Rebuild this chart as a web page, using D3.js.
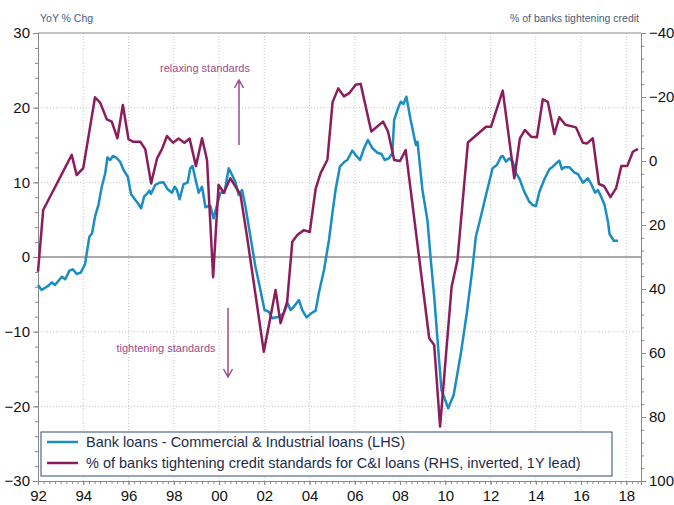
<!DOCTYPE html>
<html>
<head>
<meta charset="utf-8">
<script src="https://cdn.jsdelivr.net/npm/d3@7"></script>
<style>
  body { margin: 0; background: #fff; }
  svg { font-family: "Liberation Sans", Arial, sans-serif; }
</style>
</head>
<body>
<div id="chart"></div>
<script>
// C&I loans, YoY % chg (LHS)
var loanDates = [1992.0,1992.16,1992.46,1992.61,1992.75,1993.05,1993.2,1993.39,1993.54,1993.71,1993.89,1994.08,1994.27,1994.39,1994.52,1994.67,1994.82,1994.97,1995.07,1995.19,1995.31,1995.45,1995.63,1995.78,1995.97,1996.11,1996.3,1996.4,1996.56,1996.69,1996.81,1996.92,1996.99,1997.18,1997.37,1997.55,1997.73,1997.92,1998.04,1998.14,1998.26,1998.43,1998.61,1998.73,1998.83,1998.95,1999.1,1999.25,1999.4,1999.54,1999.62,1999.76,1999.91,2000.06,2000.24,2000.43,2000.58,2000.72,2000.87,2001.02,2001.17,2001.39,2001.61,2001.8,2002.01,2002.2,2002.35,2002.64,2002.86,2003.04,2003.16,2003.31,2003.53,2003.68,2003.87,2004.08,2004.27,2004.41,2004.64,2004.86,2005.01,2005.15,2005.34,2005.55,2005.67,2005.89,2006.04,2006.23,2006.41,2006.58,2006.78,2007.0,2007.18,2007.32,2007.51,2007.66,2007.74,2007.91,2008.03,2008.15,2008.28,2008.47,2008.7,2008.77,2008.84,2008.99,2009.21,2009.36,2009.51,2009.68,2009.83,2010.13,2010.37,2010.69,2010.95,2011.21,2011.35,2011.57,2011.8,2012.09,2012.28,2012.46,2012.54,2012.68,2012.83,2012.98,2013.13,2013.27,2013.49,2013.71,2013.86,2014.01,2014.16,2014.38,2014.6,2014.75,2014.9,2015.04,2015.15,2015.26,2015.49,2015.71,2015.86,2016.08,2016.3,2016.45,2016.62,2016.74,2016.89,2017.04,2017.19,2017.26,2017.45,2017.63];
var loanValues = [-3.75,-4.42,-3.84,-3.39,-3.75,-2.64,-2.99,-1.83,-1.65,-2.28,-2.1,-0.94,2.72,3.17,5.4,6.96,9.41,11.21,13.35,12.99,13.53,13.35,12.76,11.65,10.75,8.44,7.63,7.27,6.52,8.08,8.44,8.88,8.44,9.64,9.95,10.0,9.07,8.61,9.41,8.97,7.73,9.74,9.95,11.88,12.19,10.54,8.61,9.41,6.66,6.83,6.83,5.18,6.96,8.61,8.61,11.88,10.98,10.08,8.3,8.97,6.74,2.72,-1.3,-3.98,-7.1,-7.33,-8.21,-8.0,-7.54,-6.2,-7.1,-6.66,-5.76,-7.1,-8.08,-7.54,-7.19,-4.86,-1.74,2.28,5.85,8.97,12.09,12.76,12.99,14.24,13.66,12.99,14.56,15.67,14.56,13.97,13.79,12.99,13.22,13.89,18.35,19.91,20.8,20.49,21.47,18.35,15.0,15.44,13.43,8.97,4.96,-0.4,-5.32,-12.01,-17.81,-20.26,-18.48,-12.9,-7.54,-1.3,2.72,5.4,8.3,11.88,12.32,13.43,13.53,12.76,13.22,12.76,11.21,10.54,8.75,7.41,6.96,6.83,8.75,10.41,11.75,12.09,12.55,12.9,11.75,12.01,12.01,11.29,11.12,9.95,10.54,9.78,8.61,8.97,8.08,6.96,4.73,3.08,2.18,2.18];

// % of banks tightening C&I standards (RHS, inverted, 1Y lead)
var tightDates = [1992.0,1992.23,1993.49,1993.71,1994.0,1994.52,1994.75,1995.04,1995.26,1995.51,1995.75,1996.0,1996.22,1996.52,1996.74,1997.0,1997.26,1997.48,1997.7,1997.97,1998.21,1998.47,1998.7,1998.98,1999.25,1999.47,1999.74,1999.98,2000.21,2000.5,2000.77,2000.95,2001.24,2001.98,2002.5,2002.72,2003.01,2003.24,2003.46,2003.75,2004.01,2004.27,2004.49,2004.79,2005.02,2005.27,2005.52,2005.77,2006.04,2006.26,2006.73,2007.25,2007.47,2007.74,2008.0,2008.25,2009.29,2009.51,2009.77,2010.28,2010.54,2011.0,2011.8,2012.02,2012.54,2013.05,2013.3,2013.52,2013.79,2014.05,2014.31,2014.53,2014.82,2015.04,2015.31,2015.78,2016.08,2016.27,2016.52,2016.79,2017.01,2017.3,2017.55,2017.78,2018.04,2018.29,2018.51];
var tightValues = [34.6,15.3,-1.9,4.4,2.2,-19.9,-18.2,-13.0,-12.3,-7.1,-17.5,-6.8,-6.0,-6.0,-3.7,7.0,-0.8,-3.7,-7.8,-5.7,-7.0,-5.7,-7.0,1.6,-7.1,-0.3,36.3,7.5,9.9,5.4,8.5,10.6,23.7,59.6,40.3,50.7,44.0,25.2,23.1,21.6,22.2,8.7,3.8,-0.4,-18.4,-22.7,-20.2,-21.3,-23.8,-24.1,-9.2,-12.3,-9.2,-0.3,0.0,-3.4,55.4,57.5,83.0,39.3,30.9,-5.8,-10.7,-10.7,-22.0,5.4,-7.1,-9.7,-7.6,-7.4,-19.3,-18.5,-8.4,-13.7,-11.3,-10.5,-5.7,-5.5,-7.1,7.2,7.8,11.3,8.5,1.6,1.6,-2.9,-3.8];

var xTickYears = [1992,1994,1996,1998,2000,2002,2004,2006,2008,2010,2012,2014,2016,2018];
var leftTicks = [-30,-20,-10,0,10,20,30];
var rightTicks = [-40,-20,0,20,40,60,80,100];

var W = 674, H = 505;
var plotL = 38, plotR = 641, plotT = 33, plotB = 481;
var blue = "#1b8dc5", purple = "#8c1d5d", note = "#9d4c8b", axisGrey = "#8a8a8a";

var svg = d3.select("#chart").append("svg")
  .attr("width", W).attr("height", H);

var x = d3.scaleLinear().domain([1992, 2018.65]).range([plotL, plotR]);
var yL = d3.scaleLinear().domain([-30, 30]).range([plotB, plotT]);
var yR = d3.scaleLinear().domain([100, -40]).range([plotB, plotT]);

// grid
svg.append("g").selectAll("line")
  .data(leftTicks.filter(function(d){ return d != 0 && d != 30 && d != -30; }))
  .enter().append("line")
  .attr("x1", plotL).attr("x2", plotR)
  .attr("y1", function(d){ return yL(d); }).attr("y2", function(d){ return yL(d); })
  .attr("stroke", "#c8c8c8").attr("stroke-dasharray", "1,2");
svg.append("g").selectAll("line")
  .data(xTickYears.slice(1))
  .enter().append("line")
  .attr("x1", function(d){ return x(d); }).attr("x2", function(d){ return x(d); })
  .attr("y1", plotT).attr("y2", plotB)
  .attr("stroke", "#c8c8c8").attr("stroke-dasharray", "1,2");

// top border + zero line
svg.append("line").attr("x1", plotL).attr("x2", plotR).attr("y1", plotT).attr("y2", plotT)
  .attr("stroke", axisGrey);
svg.append("line").attr("x1", plotL).attr("x2", plotR).attr("y1", yL(0)).attr("y2", yL(0))
  .attr("stroke", "#555");

// axes
function styleAxis(g) {
  g.select(".domain").attr("stroke", axisGrey);
  g.selectAll(".tick line").attr("stroke", axisGrey);
  g.selectAll("text").attr("fill", "#111").attr("font-size", 15);
}
var minorL = d3.range(-30, 31, 2);
svg.append("g").attr("transform", "translate(" + plotL + ",0)")
  .call(d3.axisLeft(yL).tickValues(minorL).tickSize(3).tickFormat(""))
  .call(styleAxis);
svg.append("g").attr("transform", "translate(" + plotL + ",0)")
  .call(d3.axisLeft(yL).tickValues(leftTicks).tickSize(5).tickPadding(3))
  .call(styleAxis);

var minorR = d3.range(-40, 101, 4);
svg.append("g").attr("transform", "translate(" + plotR + ",0)")
  .call(d3.axisRight(yR).tickValues(minorR).tickSize(3).tickFormat(""))
  .call(styleAxis);
svg.append("g").attr("transform", "translate(" + plotR + ",0)")
  .call(d3.axisRight(yR).tickValues(rightTicks).tickSize(5).tickPadding(3))
  .call(styleAxis);

var minorX = d3.range(1992, 2018.6, 0.25);
svg.append("g").attr("transform", "translate(0," + plotB + ")")
  .call(d3.axisBottom(x).tickValues(minorX).tickSize(3).tickFormat(""))
  .call(styleAxis);
svg.append("g").attr("transform", "translate(0," + plotB + ")")
  .call(d3.axisBottom(x).tickValues(xTickYears).tickSize(4).tickPadding(5)
    .tickFormat(function(d){ return String(d % 100).padStart(2, "0"); }))
  .call(styleAxis);

// axis titles
svg.append("text").attr("x", 40).attr("y", 22).attr("font-size", 10.5)
  .attr("fill", "#4a5d78").text("YoY % Chg");
svg.append("text").attr("x", 639).attr("y", 22).attr("font-size", 10.5)
  .attr("text-anchor", "end").attr("fill", "#4a5d78").text("% of banks tightening credit");

// series
var loanLine = d3.line()
  .x(function(d, i){ return x(loanDates[i]); })
  .y(function(d){ return yL(d); });
var tightLine = d3.line()
  .x(function(d, i){ return x(tightDates[i]); })
  .y(function(d){ return yR(d); });

svg.append("path").attr("d", loanLine(loanValues))
  .attr("fill", "none").attr("stroke", blue).attr("stroke-width", 2.5)
  .attr("stroke-linejoin", "round");
svg.append("path").attr("d", tightLine(tightValues))
  .attr("fill", "none").attr("stroke", purple).attr("stroke-width", 2.5)
  .attr("stroke-linejoin", "round");

// annotations
svg.append("text").attr("x", 205).attr("y", 72).attr("font-size", 11)
  .attr("text-anchor", "middle").attr("fill", note).text("relaxing standards");
svg.append("path").attr("d", "M239,145L239,80M234.5,88L239,80L243.5,88")
  .attr("fill", "none").attr("stroke", note).attr("stroke-width", 1.5);
svg.append("text").attr("x", 166).attr("y", 352).attr("font-size", 11)
  .attr("text-anchor", "middle").attr("fill", note).text("tightening standards");
svg.append("path").attr("d", "M228,308L228,377M223.5,369L228,377L232.5,369")
  .attr("fill", "none").attr("stroke", note).attr("stroke-width", 1.5);

// legend
var legend = svg.append("g");
legend.append("rect").attr("x", 41).attr("y", 432).attr("width", 571).attr("height", 44)
  .attr("fill", "#fff").attr("stroke", "#2c4d72").attr("stroke-width", 1);
var legendItems = [
  {label: "Bank loans - Commercial & Industrial loans (LHS)", color: blue},
  {label: "% of banks tightening credit standards for C&I loans (RHS, inverted, 1Y lead)", color: purple}
];
legendItems.forEach(function(d, i) {
  var cy = 442 + i * 21;
  legend.append("line").attr("x1", 47).attr("x2", 78).attr("y1", cy).attr("y2", cy)
    .attr("stroke", d.color).attr("stroke-width", 2.5);
  legend.append("text").attr("x", 86).attr("y", cy + 5).attr("font-size", 14.5)
    .attr("fill", "#1d2c4a").text(d.label);
});
</script>
</body>
</html>
